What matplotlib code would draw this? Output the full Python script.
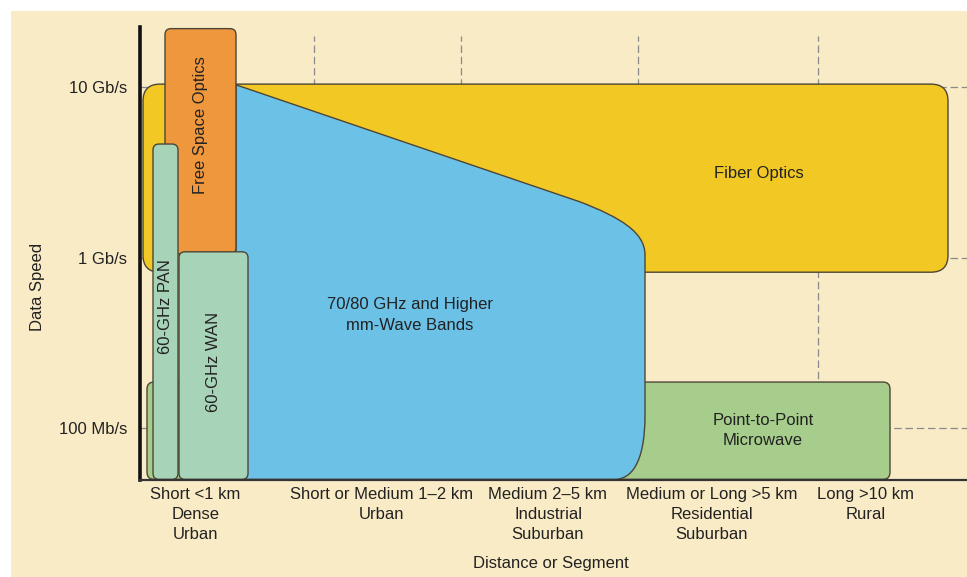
import matplotlib.pyplot as plt
import numpy as np
from matplotlib.patches import FancyBboxPatch, PathPatch, Rectangle
from matplotlib.path import Path

plt.rcParams['font.family'] = ['Liberation Sans', 'DejaVu Sans']

# speeds in Mb/s, distances in segment units along the x axis
speed_ticks = [100, 1000, 10000]
speed_labels = ['100 Mb/s', '1 Gb/s', '10 Gb/s']
segment_bounds = [1.74, 3.21, 4.98, 6.78]
segment_centers = [0.555, 2.415, 4.08, 5.72, 7.255]
segment_labels = [
    'Short <1 km\nDense\nUrban',
    'Short or Medium 1\u20132 km\nUrban',
    'Medium 2\u20135 km\nIndustrial\nSuburban',
    'Medium or Long >5 km\nResidential\nSuburban',
    'Long >10 km\nRural',
]

# technology boxes: (x0, x1, low speed, high speed)
fiber = (0.03, 8.08, 820, 10400)
free_space = (0.25, 0.96, 1050, 22000)
pan = (0.13, 0.38, 50, 4630)
wan = (0.39, 1.08, 50, 1080)
microwave = (0.07, 7.50, 50, 186)

# outline of the mm-wave region (x, Mb/s) and its path codes
mmwave_x = [0.96, 4.40, 4.80, 5.05, 5.05, 5.05, 5.05, 4.90, 4.75, 0.96, 0.96]
mmwave_y = [10300, 2120, 1720, 1411, 1034, 119, 60.7, 50, 50, 50, 10300]
mmwave_codes = [Path.MOVETO, Path.LINETO, Path.CURVE4, Path.CURVE4, Path.CURVE4,
                Path.LINETO, Path.CURVE4, Path.CURVE4, Path.CURVE4,
                Path.LINETO, Path.CLOSEPOLY]

cream = '#FAEBC7'
edge = '#4d4636'
text_color = '#222222'

fig = plt.figure(figsize=(9.67, 5.77), dpi=100)
fig.patch.set_facecolor('white')
fig.patches.append(Rectangle((11 / 967, 0), 1, 566 / 577, transform=fig.transFigure,
                             facecolor=cream, edgecolor='none', zorder=-10))

ax = fig.add_axes([140 / 967, 97 / 577, 827 / 967, 453 / 577])
ax.set_facecolor('none')
ax.set_xlim(0, 8.27)
ax.set_ylim(1.695, 4.352)

# y units are log10(Mb/s); x units per pixel 0.01, y units per pixel 1/170.5
aspect = (1 / 170.5) / 0.01


def rbox(spec, color, radius, z):
    x0, x1, lo, hi = spec
    y0, y1 = np.log10(lo), np.log10(hi)
    p = FancyBboxPatch((x0, y0), x1 - x0, y1 - y0,
                       boxstyle=f'round,pad=0,rounding_size={radius}',
                       mutation_aspect=aspect, facecolor=color,
                       edgecolor=edge, linewidth=1.0, zorder=z)
    ax.add_patch(p)


# dashed grid behind everything
for s in speed_ticks:
    ax.axhline(np.log10(s), color='#8a8a8a', lw=0.9, ls=(0, (6, 3)), zorder=0)
for b in segment_bounds:
    ax.axvline(b, ymax=0.98, color='#8a8a8a', lw=0.9, ls=(0, (6, 3)), zorder=0)

rbox(microwave, '#A6CD8B', 0.07, 1)
rbox(fiber, '#F2C824', 0.17, 1)

verts = np.column_stack([mmwave_x, np.log10(mmwave_y)])
ax.add_patch(PathPatch(Path(verts, mmwave_codes), facecolor='#6CC1E7',
                       edgecolor=edge, linewidth=1.0, zorder=2))

rbox(free_space, '#EF973D', 0.06, 3)
rbox(pan, '#A7D4B8', 0.06, 4)
rbox(wan, '#A7D4B8', 0.06, 4)

fs = 12
ax.text(6.19, np.log10(3130), 'Fiber Optics', ha='center', va='center',
        fontsize=fs, color=text_color, zorder=6)
ax.text(2.70, np.log10(460), '70/80 GHz and Higher\nmm-Wave Bands', ha='center',
        va='center', fontsize=fs, color=text_color, linespacing=1.45, zorder=6)
ax.text(6.23, np.log10(97), 'Point-to-Point\nMicrowave', ha='center', va='center',
        fontsize=fs, color=text_color, linespacing=1.4, zorder=6)
ax.text(0.60, np.log10(5980), 'Free Space Optics', ha='center', va='center',
        rotation=90, fontsize=fs, color=text_color, zorder=6)
ax.text(0.255, np.log10(513), '60-GHz PAN', ha='center', va='center',
        rotation=90, fontsize=fs, color=text_color, zorder=6)
ax.text(0.73, np.log10(244), '60-GHz WAN', ha='center', va='center',
        rotation=90, fontsize=fs, color=text_color, zorder=6)

ax.set_yticks(np.log10(speed_ticks), speed_labels)
ax.set_xticks(segment_centers, segment_labels)
ax.tick_params(axis='y', length=0, pad=9, labelsize=fs, labelcolor=text_color)
ax.tick_params(axis='x', length=0, pad=5, labelsize=fs, labelcolor=text_color)
for lab in ax.get_xticklabels():
    lab.set_linespacing(1.4)

for side in ('top', 'right'):
    ax.spines[side].set_visible(False)
ax.spines['left'].set_linewidth(2.6)
ax.spines['left'].set_color('#111111')
ax.spines['left'].set_zorder(7)
ax.spines['bottom'].set_linewidth(1.6)
ax.spines['bottom'].set_color('#333333')
ax.spines['bottom'].set_zorder(7)

ax.set_ylabel('Data Speed', fontsize=fs, color=text_color)
ax.yaxis.set_label_coords(-0.115, 0.426)
ax.set_xlabel('Distance or Segment', fontsize=fs, color=text_color)
ax.xaxis.set_label_coords(0.497, -0.168)

fig.savefig('out.png', dpi=100)
